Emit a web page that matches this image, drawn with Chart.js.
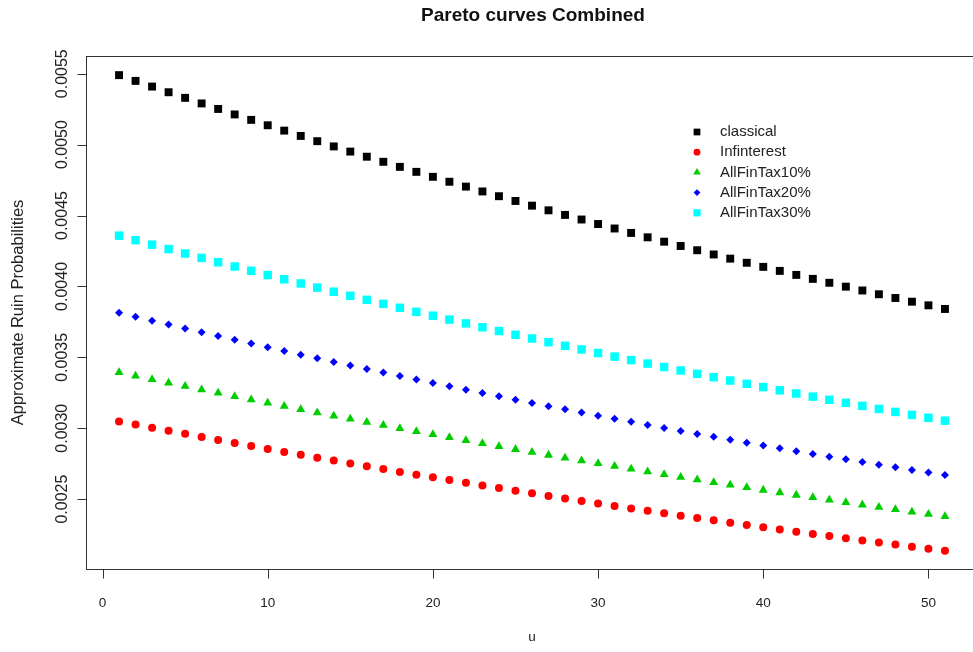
<!DOCTYPE html>
<html>
<head>
<meta charset="utf-8">
<script src="https://cdn.jsdelivr.net/npm/chart.js@4.4.0/dist/chart.umd.min.js"></script>
<style>
  html, body { margin: 0; padding: 0; background: #fff; overflow: hidden; }
  #wrap { width: 990px; height: 652px; }
</style>
</head>
<body>
<div id="wrap"><canvas id="paretoChart" width="990" height="652"></canvas></div>
<script>
// u values (x axis)
const uValues = [1, 2, 3, 4, 5, 6, 7, 8, 9, 10, 11, 12, 13, 14, 15, 16, 17, 18, 19, 20,
  21, 22, 23, 24, 25, 26, 27, 28, 29, 30, 31, 32, 33, 34, 35, 36, 37, 38, 39, 40,
  41, 42, 43, 44, 45, 46, 47, 48, 49, 50, 51];

// approximate ruin probabilities
const classical = [0.0054900, 0.0054495, 0.0054093, 0.0053694, 0.0053298, 0.0052905, 0.0052516, 0.0052129, 0.0051746, 0.0051365,
  0.0050988, 0.0050613, 0.0050242, 0.0049874, 0.0049509, 0.0049147, 0.0048788, 0.0048432, 0.0048079, 0.0047729,
  0.0047382, 0.0047039, 0.0046698, 0.0046361, 0.0046026, 0.0045695, 0.0045367, 0.0045042, 0.0044719, 0.0044400,
  0.0044084, 0.0043772, 0.0043462, 0.0043155, 0.0042851, 0.0042551, 0.0042253, 0.0041959, 0.0041667, 0.0041379,
  0.0041094, 0.0040811, 0.0040532, 0.0040256, 0.0039983, 0.0039713, 0.0039447, 0.0039183, 0.0038922, 0.0038665, 0.0038410];

const infInterest = [0.0030480, 0.0030257, 0.0030037, 0.0029817, 0.0029600, 0.0029384, 0.0029169, 0.0028956, 0.0028745, 0.0028536,
  0.0028328, 0.0028122, 0.0027917, 0.0027714, 0.0027513, 0.0027314, 0.0027116, 0.0026919, 0.0026725, 0.0026532,
  0.0026340, 0.0026150, 0.0025962, 0.0025776, 0.0025591, 0.0025408, 0.0025226, 0.0025046, 0.0024868, 0.0024691,
  0.0024516, 0.0024343, 0.0024171, 0.0024001, 0.0023832, 0.0023666, 0.0023500, 0.0023337, 0.0023175, 0.0023015,
  0.0022856, 0.0022699, 0.0022544, 0.0022390, 0.0022238, 0.0022088, 0.0021939, 0.0021792, 0.0021646, 0.0021502, 0.0021360];

const allFinTax10 = [0.0033930, 0.0033684, 0.0033440, 0.0033198, 0.0032957, 0.0032719, 0.0032482, 0.0032246, 0.0032013, 0.0031781,
  0.0031551, 0.0031322, 0.0031096, 0.0030871, 0.0030648, 0.0030427, 0.0030207, 0.0029989, 0.0029773, 0.0029559,
  0.0029346, 0.0029135, 0.0028926, 0.0028719, 0.0028513, 0.0028309, 0.0028107, 0.0027907, 0.0027708, 0.0027511,
  0.0027316, 0.0027123, 0.0026931, 0.0026741, 0.0026553, 0.0026367, 0.0026182, 0.0025999, 0.0025818, 0.0025638,
  0.0025461, 0.0025285, 0.0025111, 0.0024938, 0.0024768, 0.0024599, 0.0024431, 0.0024266, 0.0024102, 0.0023940, 0.0023780];

const allFinTax20 = [0.0038140, 0.0037861, 0.0037585, 0.0037310, 0.0037037, 0.0036767, 0.0036498, 0.0036232, 0.0035967, 0.0035705,
  0.0035444, 0.0035186, 0.0034930, 0.0034675, 0.0034423, 0.0034173, 0.0033925, 0.0033679, 0.0033434, 0.0033192,
  0.0032952, 0.0032714, 0.0032478, 0.0032245, 0.0032013, 0.0031783, 0.0031555, 0.0031329, 0.0031106, 0.0030884,
  0.0030664, 0.0030447, 0.0030231, 0.0030018, 0.0029806, 0.0029597, 0.0029389, 0.0029184, 0.0028981, 0.0028780,
  0.0028580, 0.0028383, 0.0028188, 0.0027995, 0.0027804, 0.0027615, 0.0027428, 0.0027243, 0.0027060, 0.0026879, 0.0026700];

const allFinTax30 = [0.0043580, 0.0043262, 0.0042946, 0.0042633, 0.0042322, 0.0042013, 0.0041707, 0.0041402, 0.0041101, 0.0040801,
  0.0040504, 0.0040209, 0.0039917, 0.0039627, 0.0039339, 0.0039054, 0.0038770, 0.0038490, 0.0038211, 0.0037935,
  0.0037661, 0.0037390, 0.0037121, 0.0036854, 0.0036589, 0.0036327, 0.0036067, 0.0035810, 0.0035555, 0.0035302,
  0.0035051, 0.0034803, 0.0034557, 0.0034314, 0.0034072, 0.0033834, 0.0033597, 0.0033363, 0.0033131, 0.0032901,
  0.0032674, 0.0032449, 0.0032227, 0.0032006, 0.0031789, 0.0031573, 0.0031360, 0.0031149, 0.0030940, 0.0030734, 0.0030530];

const seriesNames = ['classical', 'Infinterest', 'AllFinTax10%', 'AllFinTax20%', 'AllFinTax30%'];
const xTicks = [0, 10, 20, 30, 40, 50];
const yTicks = [0.0025, 0.0030, 0.0035, 0.0040, 0.0045, 0.0050, 0.0055];
const yTickLabels = ['0.0025', '0.0030', '0.0035', '0.0040', '0.0045', '0.0050', '0.0055'];

const FONT = '"Liberation Sans", Arial, sans-serif';

// R-like styling for each series
const styles = [
  { color: '#000000', pointStyle: 'rect', radius: 5.6 },
  { color: '#FF0000', pointStyle: 'circle', radius: 4 },
  { color: '#00CD00', pointStyle: 'triangle', radius: 5.2 },
  { color: '#0000FF', pointStyle: 'rectRot', radius: 4 },
  { color: '#00FFFF', pointStyle: 'rect', radius: 6 }
];

function toPoints(values) {
  return values.map((v, i) => ({ x: uValues[i], y: v }));
}

const allSeries = [classical, infInterest, allFinTax10, allFinTax20, allFinTax30];

const datasets = allSeries.map((values, i) => ({
  label: seriesNames[i],
  data: toPoints(values),
  showLine: false,
  pointStyle: styles[i].pointStyle,
  pointRadius: styles[i].radius,
  pointBackgroundColor: styles[i].color,
  pointBorderColor: styles[i].color,
  pointBorderWidth: 0
}));

// Draw the R-style box, axes, labels and legend
const rFramePlugin = {
  id: 'rFrame',
  afterDraw(chart) {
    const ctx = chart.ctx;
    const area = chart.chartArea;
    const xs = chart.scales.x;
    const ys = chart.scales.y;

    ctx.save();
    ctx.strokeStyle = '#333';
    ctx.lineWidth = 1;

    // plot box
    ctx.strokeRect(Math.round(area.left) + 0.5, Math.round(area.top) + 0.5,
      Math.round(area.right - area.left), Math.round(area.bottom - area.top));

    // x axis ticks
    ctx.fillStyle = '#222';
    ctx.font = '13.5px ' + FONT;
    ctx.textAlign = 'center';
    ctx.textBaseline = 'middle';
    const yb = Math.round(area.bottom) + 0.5;
    ctx.beginPath();
    ctx.moveTo(xs.getPixelForValue(xTicks[0]), yb);
    ctx.lineTo(xs.getPixelForValue(xTicks[xTicks.length - 1]), yb);
    xTicks.forEach(t => {
      const px = Math.round(xs.getPixelForValue(t)) + 0.5;
      ctx.moveTo(px, yb);
      ctx.lineTo(px, yb + 9);
    });
    ctx.stroke();
    xTicks.forEach(t => {
      ctx.fillText(String(t), xs.getPixelForValue(t), 603);
    });
    ctx.fillText('u', (area.left + area.right) / 2, 637);

    // y axis ticks
    const xl = Math.round(area.left) + 0.5;
    ctx.beginPath();
    yTicks.forEach(t => {
      const py = Math.round(ys.getPixelForValue(t)) + 0.5;
      ctx.moveTo(xl, py);
      ctx.lineTo(xl - 9, py);
    });
    ctx.stroke();
    ctx.font = '16px ' + FONT;
    yTicks.forEach((t, i) => {
      ctx.save();
      ctx.translate(63, ys.getPixelForValue(t));
      ctx.rotate(-Math.PI / 2);
      ctx.fillText(yTickLabels[i], 0, 0);
      ctx.restore();
    });

    // y axis title
    ctx.font = '16.5px ' + FONT;
    ctx.save();
    ctx.translate(18, (area.top + area.bottom) / 2);
    ctx.rotate(-Math.PI / 2);
    ctx.fillText('Approximate Ruin Probabilities', 0, 0);
    ctx.restore();

    // main title
    ctx.font = 'bold 19px ' + FONT;
    ctx.fillStyle = '#111';
    ctx.fillText('Pareto curves Combined', 533, 16);

    // legend
    ctx.font = '15px ' + FONT;
    ctx.textAlign = 'left';
    seriesNames.forEach((name, i) => {
      const ly = 132 + i * 20.2;
      ctx.fillStyle = styles[i].color;
      ctx.strokeStyle = styles[i].color;
      Chart.helpers.drawPoint(ctx, {
        pointStyle: styles[i].pointStyle,
        radius: styles[i].radius * 0.85,
        borderWidth: 0,
        rotation: 0
      }, 697, ly);
      ctx.fillStyle = '#222';
      ctx.fillText(name, 720, ly);
    });

    ctx.restore();
  }
};

new Chart(document.getElementById('paretoChart'), {
  type: 'scatter',
  data: { datasets: datasets },
  options: {
    responsive: false,
    animation: false,
    devicePixelRatio: 1,
    layout: {
      padding: { left: 86, top: 56, right: 12, bottom: 83 }
    },
    scales: {
      x: { type: 'linear', min: -1, max: 53, display: false },
      y: { type: 'linear', min: 0.002007, max: 0.005625, display: false }
    },
    plugins: {
      legend: { display: false },
      tooltip: { enabled: false }
    }
  },
  plugins: [rFramePlugin]
});
</script>
</body>
</html>
